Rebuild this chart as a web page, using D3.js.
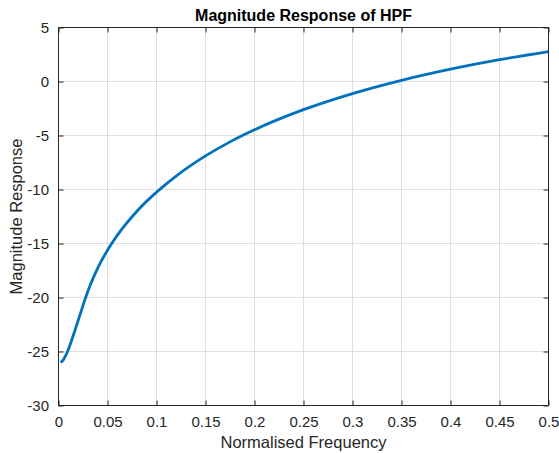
<!DOCTYPE html>
<html><head><meta charset="utf-8">
<script src="https://cdn.jsdelivr.net/npm/d3@7"></script>
<style>body{margin:0;background:#fff;} text{font-family:"Liberation Sans",Arial,Helvetica,sans-serif;}</style>
</head><body>
<svg id="c" width="559" height="453"></svg>
<script>
const freq = [0.002,0.004,0.006,0.008,0.0094,0.012,0.017,0.022,0.0278,0.032,0.04,0.05,0.0543,0.065,0.08,0.1036,0.12,0.15,0.175,0.2,0.25,0.3,0.35,0.4,0.45,0.5];
const mag  = [-26.0,-25.88,-25.6,-25.25,-24.95,-24.33,-22.98,-21.58,-19.98,-18.94,-17.28,-15.62,-15.0,-13.63,-12.01,-9.97,-8.76,-6.89,-5.59,-4.47,-2.61,-1.12,0.11,1.14,2.02,2.77];
const xTicks = [0,0.05,0.1,0.15,0.2,0.25,0.3,0.35,0.4,0.45,0.5];
const yTicks = [-30,-25,-20,-15,-10,-5,0,5];
const titleText = "Magnitude Response of HPF";
const xLabel = "Normalised Frequency";
const yLabel = "Magnitude Response";

const m = {l:58.5, t:27.5, r:548.5, b:405.5};
const svg = d3.select("#c");
const x = d3.scaleLinear().domain([0,0.5]).range([m.l,m.r]);
const y = d3.scaleLinear().domain([-30,5]).range([m.b,m.t]);
const ax = "#262626";

// grid
svg.append("g").selectAll("line").data(xTicks.slice(1,-1)).join("line")
  .attr("x1",d=>x(d)).attr("x2",d=>x(d)).attr("y1",m.t).attr("y2",m.b)
  .attr("stroke","#dfdfdf").attr("stroke-width",1);
svg.append("g").selectAll("line").data(yTicks.slice(1,-1)).join("line")
  .attr("y1",d=>y(d)).attr("y2",d=>y(d)).attr("x1",m.l).attr("x2",m.r)
  .attr("stroke","#dfdfdf").attr("stroke-width",1);

// curve
const data = freq.map((f,i)=>[f,mag[i]]);
svg.append("path").datum(data)
  .attr("d", d3.line().x(d=>x(d[0])).y(d=>y(d[1])).curve(d3.curveMonotoneX))
  .attr("fill","none").attr("stroke","#0072BD").attr("stroke-width",2.8)
  .attr("stroke-linejoin","round").attr("stroke-linecap","butt");

// axes
function styleAxis(g){
  g.select(".domain").remove();
  g.selectAll(".tick line").attr("stroke",ax);
  g.selectAll(".tick text").attr("fill",ax).style("font-size","15px");
}
const gBottom = svg.append("g").attr("transform",`translate(0,${m.b})`)
  .call(d3.axisBottom(x).tickValues(xTicks).tickFormat(d=>String(d)).tickSizeInner(-5).tickSizeOuter(0).tickPadding(11));
styleAxis(gBottom);
const gTop = svg.append("g").attr("transform",`translate(0,${m.t})`)
  .call(d3.axisTop(x).tickValues(xTicks).tickFormat("").tickSizeInner(-5).tickSizeOuter(0));
styleAxis(gTop);
const gLeft = svg.append("g").attr("transform",`translate(${m.l},0)`)
  .call(d3.axisLeft(y).tickValues(yTicks).tickFormat(d=>String(d)).tickSizeInner(-5).tickSizeOuter(0).tickPadding(9.5));
styleAxis(gLeft);
const gRight = svg.append("g").attr("transform",`translate(${m.r},0)`)
  .call(d3.axisRight(y).tickValues(yTicks).tickFormat("").tickSizeInner(-5).tickSizeOuter(0));
styleAxis(gRight);

svg.append("rect").attr("x",m.l).attr("y",m.t).attr("width",m.r-m.l).attr("height",m.b-m.t)
  .attr("fill","none").attr("stroke",ax).attr("stroke-width",1);

// labels
svg.append("text").attr("x",(m.l+m.r)/2).attr("y",21).attr("text-anchor","middle")
  .style("font-size","16px").style("font-weight","bold").attr("fill","#000").text(titleText);
svg.append("text").attr("x",(m.l+m.r)/2).attr("y",448).attr("text-anchor","middle")
  .style("font-size","16.5px").attr("fill",ax).text(xLabel);
svg.append("text").attr("transform",`translate(22,${(m.t+m.b)/2}) rotate(-90)`).attr("text-anchor","middle")
  .style("font-size","16.5px").attr("fill",ax).text(yLabel);
</script>
</body></html>
